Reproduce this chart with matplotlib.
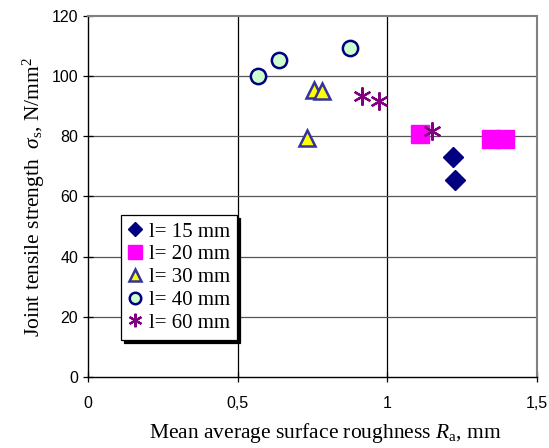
import matplotlib.pyplot as plt

# values
x_15 = [1.22, 1.226]
y_15 = [73.1, 65.5]
x_20 = [1.108, 1.346, 1.392]
y_20 = [80.7, 79.1, 79.1]
x_30 = [0.733, 0.755, 0.783]
y_30 = [79.3, 95.4, 95.1]
x_40 = [0.567, 0.637, 0.875]
y_40 = [100.1, 105.3, 109.5]
x_60 = [0.914, 0.972, 1.148]
y_60 = [93.4, 91.9, 81.9]

labels = ["l= 15 mm", "l= 20 mm", "l= 30 mm", "l= 40 mm", "l= 60 mm"]
x_ticks = [0, 0.5, 1, 1.5]
x_tick_labels = ["0", "0,5", "1", "1,5"]
y_ticks = [0, 20, 40, 60, 80, 100, 120]

plt.rcParams["font.family"] = ["Liberation Serif", "DejaVu Serif"]
plt.rcParams["mathtext.fontset"] = "custom"
plt.rcParams["mathtext.rm"] = "Liberation Serif"
plt.rcParams["mathtext.it"] = "Liberation Serif:italic"

fig = plt.figure(figsize=(5.49, 4.48), dpi=100)
ax = fig.add_axes([0.1603, 0.1585, 0.8177, 0.8058])

for v in [0.5, 1.0]:
    ax.axvline(v, color="black", lw=0.9, zorder=1)
for v in [20, 40, 60, 80, 100]:
    ax.axhline(v, color="#555555", lw=0.9, zorder=1)

ax.plot(x_15, y_15, ls="none", marker="D", ms=10, mfc="#000080", mec="#000080",
        label=labels[0], zorder=3)
ax.plot(x_20, y_20, ls="none", marker="s", ms=13, mfc="#ff00ff", mec="#ff00ff",
        label=labels[1], zorder=3)
ax.plot(x_30, y_30, ls="none", marker="^", ms=12, mfc="#ffff00", mec="#333399",
        mew=1.8, label=labels[2], zorder=3)
ax.plot(x_40, y_40, ls="none", marker="o", ms=11, mfc="#ccffcc", mec="#000080",
        mew=1.8, label=labels[3], zorder=3)
ax.plot(x_60, y_60, ls="none", marker=(6, 2, 0), ms=13, mfc="#800080", mec="#800080",
        mew=1.6, label=labels[4], zorder=4)

ax.set_xlim(0, 1.5)
ax.set_ylim(0, 120)
ax.set_xticks(x_ticks)
ax.set_xticklabels(x_tick_labels, family="Liberation Sans", fontsize=11.5)
ax.set_yticks(y_ticks)
ax.set_yticklabels([str(v) for v in y_ticks], family="Liberation Sans", fontsize=11.5)
ax.tick_params(direction="inout", length=7, width=0.9, color="black")
ax.tick_params(axis="x", pad=10)

for s in ["left", "bottom"]:
    ax.spines[s].set_color("black")
    ax.spines[s].set_linewidth(1.0)
for s in ["top", "right"]:
    ax.spines[s].set_color("#808080")
    ax.spines[s].set_linewidth(1.5)

ax.set_xlabel(r"Mean average surface roughness $R_{\mathrm{a}}$, mm", fontsize=15.5)
ax.xaxis.set_label_coords(0.528, -0.122)
ax.set_ylabel(r"Joint tensile strength  $\sigma_{\mathrm{s}}$, N/mm$^2$", fontsize=15.5, labelpad=3)

leg = ax.legend(loc="upper left", bbox_to_anchor=(0.073, 0.449), borderaxespad=0,
                fontsize=15, markerscale=0.75, handlelength=0.7, handletextpad=0.3,
                labelspacing=0.15, borderpad=0.35, fancybox=False, framealpha=1,
                edgecolor="black", shadow={"color": "black", "alpha": 1})
leg.get_frame().set_linewidth(0.9)
leg.set_zorder(5)

fig.savefig("out.png", dpi=100)
